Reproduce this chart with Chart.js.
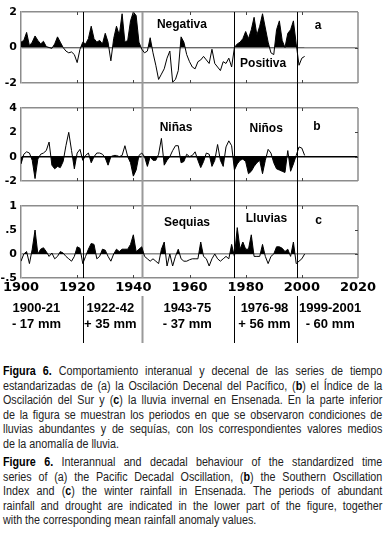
<!DOCTYPE html>
<html lang="es">
<head>
<meta charset="UTF-8">
<title>Figura 6</title>
<style>
  body { margin: 0; background: #fff; }
  #wrap { position: relative; width: 385px; height: 533px; overflow: hidden; }
  #chart { position: absolute; left: 0; top: 0; }
  .cap { position: absolute; left: 3px; width: 441px; transform: scaleX(0.86); transform-origin: 0 0;
         font: 12.5px "Liberation Sans", Arial, sans-serif; line-height: 14.5px; color: #222; }
  .cap div { text-align: justify; text-align-last: justify; white-space: nowrap; }
  .cap div.last { text-align-last: left; }
  .cap b { color: #000; }
</style>
</head>
<body>
<div id="wrap">
  <canvas id="chart" width="385" height="350"></canvas>
  <div class="cap" style="top:364px">
    <div><b>Figura 6.</b> Comportamiento interanual y decenal de las series de tiempo</div>
    <div>estandarizadas de (a) la Oscilación Decenal del Pacífico, (<b>b</b>) el Índice de la</div>
    <div>Oscilación del Sur y (<b>c</b>) la lluvia invernal en Ensenada. En la parte inferior</div>
    <div>de la figura se muestran los periodos en que se observaron condiciones de</div>
    <div>lluvias abundantes y de sequías, con los correspondientes valores medios</div>
    <div class="last">de la anomalía de lluvia.</div>
  </div>
  <div class="cap" style="top:455px">
    <div><b>Figure 6.</b> Interannual and decadal behaviour of the standardized time</div>
    <div>series of (a) the Pacific Decadal Oscillation, (<b>b</b>) the Southern Oscillation</div>
    <div>Index and (<b>c</b>) the winter rainfall in Ensenada. The periods of abundant</div>
    <div>rainfall and drought are indicated in the lower part of the figure, together</div>
    <div class="last">with the corresponding mean rainfall anomaly values.</div>
  </div>
</div>
<script src="https://cdn.jsdelivr.net/npm/chart.js"></script>
<script>
    // annual values 1900-2001
    const years = Array.from({ length: 102 }, (_, i) => 1900 + i);

    // (a) Pacific Decadal Oscillation
    const pdo = [
        0.3, 0.4, 0.85, 0.1, 0.3, 0.65, 0.4, 0.2, 0.35, 0.05,
        0.0, -0.05, 0.2, 0.6, 0.3, 0.0, -0.2, -0.3, -0.25, -0.4,
        -0.85, -0.1, 0.3, 0.2, 0.5, 1.2, 0.5, 0.3, 0.4, 0.2,
        0.8, 0.3, -0.75, 0.5, 1.2, 0.7, 1.9, 0.3, 0.4, 1.5,
        2.0, 1.8, 0.3, -0.1, -0.3, -0.2, 0.55, -0.3, -1.0, -1.8,
        -1.5, -1.2, -0.6, -0.2, -1.95, -1.8, -1.3, 0.6, 0.3, -0.4,
        -0.8, -1.1, -1.2, -0.8, -0.7, -0.5, -0.7, -0.9, -0.1, -0.9,
        -1.1, -1.3, -0.8, -0.9, -0.6, -1.1, 0.0, 0.2, 0.3, 0.5,
        0.9, 0.5, 1.0, 1.7, 0.7, 1.2, 1.9, 1.1, 0.3, -0.3,
        -0.4, 1.0, 1.5, 0.4, 0.0, 0.8, 1.0, 1.5, 0.2, -1.0,
        -0.6, -0.5
    ];

    // (b) Southern Oscillation Index
    const soi = [
        -0.6, 0.2, 0.4, 0.3, -0.3, -1.8, -0.2, 0.2, 0.3, 0.5,
        1.2, -0.7, -1.0, -0.8, -0.9, -0.4, 0.9, 2.0, 0.5, -1.0,
        0.3, 0.6, -0.3, 0.1, 0.3, -0.5, 0.0, 0.3, 0.3, 0.2,
        -0.1, -0.7, 0.0, 0.1, 0.1, 0.0, 0.1, 0.9, 0.0, -0.5,
        -1.6, -1.1, 0.1, 0.3, 0.0, -0.8, 0.0, -0.3, -0.3, 0.2,
        1.5, -0.7, -0.3, 0.0, 0.5, 0.9, 0.9, -0.5, -0.4, 0.2,
        0.0, 0.1, 0.4, -0.3, -0.9, -0.4, 0.3, 0.2, -0.8, -0.3,
        1.0, -0.3, -0.8, 0.8, 1.3, 0.9, -1.1, -0.6, -0.3, -0.2,
        -0.4, -1.4, -1.2, -0.8, -0.5, -0.3, -1.4, -0.3, 0.6, 0.3,
        -0.5, -1.0, -1.1, -1.2, -1.3, 0.5, -1.2, -0.6, 0.1, 0.8,
        0.7, 0.1
    ];

    // (c) winter rainfall in Ensenada
    const rain = [
        -0.15, 0.0, 0.05, -0.2, 0.1, 0.5, 0.0, 0.1, 0.13, 0.05,
        -0.05, 0.02, -0.1, -0.05, 0.05, 0.02, -0.05, -0.1, -0.15, -0.05,
        0.15, 0.12, -0.2, -0.05, 0.1, 0.22, 0.2, -0.1, -0.05, 0.1,
        0.08, -0.05, -0.15, 0.0, 0.1, 0.05, 0.1, 0.1, 0.1, 0.2,
        0.4, 0.05, 0.1, 0.15, -0.05, -0.1, -0.15, -0.1, -0.15, -0.2,
        0.1, 0.25, -0.25, 0.0, -0.25, -0.05, 0.1, -0.1, -0.15, -0.15,
        -0.12, -0.1, -0.1, -0.1, 0.25, -0.05, -0.1, -0.25, -0.1, 0.0,
        -0.1, -0.15, -0.1, -0.05, -0.1, 0.2, -0.05, 0.55, 0.1, 0.25,
        0.1, 0.1, 0.4, -0.05, -0.05, -0.05, 0.2, -0.05, -0.2, -0.05,
        0.0, 0.15, 0.15, 0.12, 0.05, 0.1, -0.05, 0.25, -0.2, -0.15,
        -0.1, 0.0
    ];

    const periodBreaks = [1922, 1943, 1976, 1998.3];
    const periodNames = ['1900-21', '1922-42', '1943-75', '1976-98', '1999-2001'];
    const periodRain = ['- 17 mm', '+ 35 mm', '- 37 mm', '+ 56 mm', '- 60 mm'];

    const panelNotes = [
        { axis: 'ya', x: 1957.3, y: 1.3, text: 'Negativa' },
        { axis: 'ya', x: 1986.2, y: -0.9, text: 'Positiva' },
        { axis: 'ya', x: 2005.8, y: 1.25, text: 'a' },
        { axis: 'yb', x: 1955.2, y: 2.4, text: 'Niñas' },
        { axis: 'yb', x: 1987.3, y: 2.3, text: 'Niños' },
        { axis: 'yb', x: 2005.4, y: 2.5, text: 'b' },
        { axis: 'yc', x: 1959.1, y: 0.65, text: 'Sequias' },
        { axis: 'yc', x: 1987.4, y: 0.73, text: 'Lluvias' },
        { axis: 'yc', x: 2006, y: 0.7, text: 'c' }
    ];
    const periodCenters = [1905.5, 1931.8, 1959.2, 1986.7, 2010.1];

    const edge = '#8c8c8c';
    const panels = ['ya', 'yb', 'yc'];

    function fmt(v) {
        if (v === 0) return '0';
        return String(v).replace('0.', '.');
    }

    function panelAxis(min, max, step, weight, stackWeight, zeroColor) {
        return {
            type: 'linear', position: 'left', stack: 'panels', stackWeight: stackWeight, weight: weight,
            min: min, max: max,
            ticks: {
                stepSize: step, padding: 4, color: '#000', autoSkip: false,
                font: { family: 'DejaVu Sans', weight: 'bold', size: 11 },
                callback: v => fmt(v)
            },
            grid: {
                drawTicks: false,
                lineWidth: 1.5,
                color: ctx => {
                    const v = ctx.tick.value;
                    if (v === min || v === max) return edge;
                    if (v === 0) return zeroColor;
                    return 'rgba(0,0,0,0)';
                }
            },
            border: { color: edge, width: 1.5 },
            afterFit: s => { s.width = 21; }
        };
    }

    function spacer(weight) {
        return { type: 'linear', position: 'left', stack: 'panels', stackWeight: 25, weight: weight, display: false };
    }

    const decor = {
        id: 'decor',
        beforeDatasetsDraw(chart) {
            const { ctx, chartArea, scales } = chart;
            const x = scales.x;
            ctx.save();
            periodBreaks.forEach((b, i) => {
                const px = Math.round(x.getPixelForValue(b)) + 0.5;
                ctx.strokeStyle = i === 1 ? '#9a9a9a' : '#000';
                ctx.lineWidth = i === 1 ? 2 : 1;
                ctx.beginPath();
                ctx.moveTo(px, scales.ya.top);
                ctx.lineTo(px, chartArea.bottom);
                ctx.moveTo(px, x.bottom);
                ctx.lineTo(px, x.bottom + 47);
                ctx.stroke();
            });
            ctx.restore();
        },
        afterDraw(chart) {
            const { ctx, chartArea, scales } = chart;
            const x = scales.x;
            ctx.save();
            // right edges and inner tick marks
            panels.forEach(id => {
                const s = scales[id];
                ctx.strokeStyle = edge;
                ctx.lineWidth = 1.5;
                ctx.beginPath();
                ctx.moveTo(chartArea.right, s.top);
                ctx.lineTo(chartArea.right, s.bottom);
                ctx.stroke();
                ctx.strokeStyle = '#444';
                ctx.lineWidth = 1;
                ctx.beginPath();
                x.ticks.forEach(t => {
                    if (t.value === x.min || t.value === x.max) return;
                    const px = Math.round(x.getPixelForValue(t.value)) + 0.5;
                    ctx.moveTo(px, s.top);
                    ctx.lineTo(px, s.top + 3);
                    ctx.moveTo(px, s.bottom);
                    ctx.lineTo(px, s.bottom - 3);
                });
                s.ticks.forEach(t => {
                    if (t.value === s.min || t.value === s.max) return;
                    const py = Math.round(s.getPixelForValue(t.value)) + 0.5;
                    ctx.moveTo(chartArea.right, py);
                    ctx.lineTo(chartArea.right - 3, py);
                });
                ctx.stroke();
            });
            // panel notes
            ctx.fillStyle = '#000';
            ctx.font = 'bold 12px "Liberation Sans", Arial, sans-serif';
            ctx.textAlign = 'center';
            ctx.textBaseline = 'middle';
            panelNotes.forEach(n => {
                ctx.fillText(n.text, x.getPixelForValue(n.x), scales[n.axis].getPixelForValue(n.y));
            });
            // periods and rainfall anomalies
            ctx.font = 'bold 13px "Liberation Sans", Arial, sans-serif';
            periodNames.forEach((p, i) => {
                const px = x.getPixelForValue(periodCenters[i]);
                ctx.fillText(p, px, x.bottom + 12);
                ctx.fillText(periodRain[i], px, x.bottom + 28);
            });
            ctx.restore();
        }
    };

    function series(values, fill) {
        return {
            data: values.map((v, i) => ({ x: years[i], y: v })),
            borderColor: '#000',
            borderWidth: 1,
            pointRadius: 0,
            tension: 0,
            fill: fill
        };
    }

    const ctx = document.getElementById('chart').getContext('2d');
    new Chart(ctx, {
        type: 'line',
        data: {
            datasets: [
                Object.assign(series(pdo, { target: 'origin', above: '#000', below: 'rgba(0,0,0,0)' }), { yAxisID: 'ya' }),
                Object.assign(series(soi, { target: 'origin', above: 'rgba(0,0,0,0)', below: '#000' }), { yAxisID: 'yb' }),
                Object.assign(series(rain, { target: 'origin', above: '#000', below: 'rgba(0,0,0,0)' }), { yAxisID: 'yc' })
            ]
        },
        options: {
            responsive: false,
            devicePixelRatio: 1,
            animation: false,
            layout: { padding: { left: 0, right: 27, top: 12, bottom: 54 } },
            plugins: { legend: { display: false }, tooltip: { enabled: false } },
            scales: {
                x: {
                    type: 'linear', position: 'bottom', min: 1900, max: 2020,
                    ticks: {
                        stepSize: 20, padding: 2, color: '#000', maxRotation: 0, autoSkip: false,
                        font: { family: 'DejaVu Sans', weight: 'bold', size: 13 },
                        callback: v => String(v)
                    },
                    grid: { display: false, drawTicks: false },
                    border: { display: false },
                    afterFit: s => { s.height = 18; }
                },
                ya: panelAxis(-2, 2, 2, 5, 71, edge),
                gapA: spacer(4),
                yb: panelAxis(-2, 4, 2, 3, 73, '#000'),
                gapB: spacer(2),
                yc: panelAxis(-0.5, 1, 0.5, 1, 72, edge)
            }
        },
        plugins: [decor]
    });
</script>
</body>
</html>
